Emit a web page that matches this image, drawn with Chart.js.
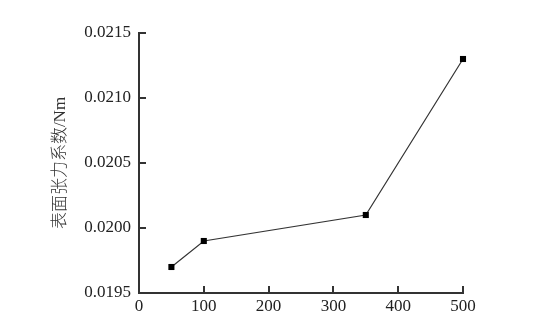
<!DOCTYPE html>
<html><head><meta charset="utf-8">
<script src="https://cdn.jsdelivr.net/npm/chart.js@4"></script>
<style>html,body{margin:0;padding:0;background:#fff}#w{width:550px;height:319px}</style>
</head><body><div id="w"><canvas id="c"></canvas></div>
<script>
const xValues = [50, 100, 350, 500];
const yValues = [0.0197, 0.0199, 0.0201, 0.0213];
const yTitle = '表面张力系数/Nm';
const xRange = [0, 500, 100];
const yRange = [0.0195, 0.0215, 0.0005];

const inwardTicks = {
  id: 'inwardTicks',
  afterDraw(chart) {
    const ctx = chart.ctx;
    ctx.save();
    ctx.strokeStyle = '#333';
    ctx.lineWidth = 2;
    const xs = chart.scales.x, ys = chart.scales.y;
    xs.ticks.forEach(t => {
      const px = Math.round(xs.getPixelForValue(t.value));
      ctx.beginPath(); ctx.moveTo(px, xs.top); ctx.lineTo(px, xs.top - 7); ctx.stroke();
    });
    ys.ticks.forEach(t => {
      const py = Math.round(ys.getPixelForValue(t.value));
      ctx.beginPath(); ctx.moveTo(ys.right, py); ctx.lineTo(ys.right + 7, py); ctx.stroke();
    });
    ctx.restore();
  }
};

new Chart(document.getElementById('c'), {
  type: 'line',
  data: {
    datasets: [{
      data: xValues.map((x, i) => ({x, y: yValues[i]})),
      borderColor: '#333',
      borderWidth: 1.2,
      pointStyle: 'rect',
      pointRadius: 4.3,
      pointBackgroundColor: '#000',
      pointBorderColor: '#000',
      pointBorderWidth: 0,
      tension: 0,
      clip: false
    }]
  },
  options: {
    responsive: true,
    maintainAspectRatio: false,
    animation: false,
    layout: {padding: {left: 0, right: 87, top: 33, bottom: 0}},
    plugins: {legend: {display: false}, tooltip: {enabled: false}},
    scales: {
      x: {
        type: 'linear', min: xRange[0], max: xRange[1],
        ticks: {stepSize: xRange[2], color: '#222', padding: 3, font: {family: 'Liberation Serif', size: 17}},
        grid: {drawOnChartArea: false, drawTicks: false},
        border: {display: true, color: '#333', width: 2},
        afterFit(s) { s.height = 26; }
      },
      y: {
        type: 'linear', min: yRange[0], max: yRange[1],
        ticks: {stepSize: yRange[2], color: '#222', padding: 8,
          font: {family: 'Liberation Serif', size: 17},
          callback: v => v.toFixed(4)},
        grid: {drawOnChartArea: false, drawTicks: false},
        border: {display: true, color: '#333', width: 2},
        title: {display: true, text: yTitle, color: '#333',
          font: {family: "'Liberation Serif', 'Noto Sans CJK SC'", size: 17, weight: '300'},
          padding: {top: 50, bottom: 0}},
        afterFit(s) { s.width = 139; }
      }
    }
  },
  plugins: [inwardTicks]
});
</script>
</body></html>
